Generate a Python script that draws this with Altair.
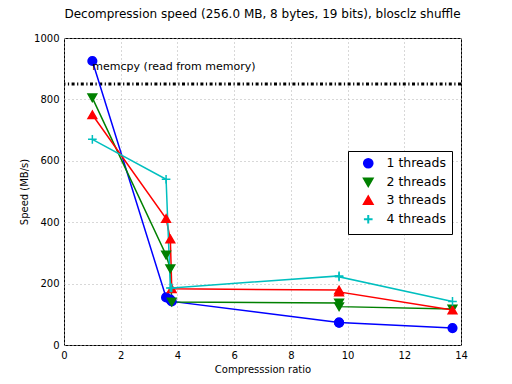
import altair as alt
import pandas as pd

series = ["1 threads", "2 threads", "3 threads", "4 threads"]
ratios = [1.0, 3.6, 3.75, 3.8, 9.7, 9.7, 13.7]
speed_1 = [925, 155, 148, 142, 73, 73, 55]
speed_2 = [805, 293, 248, 140, 137, 125, 117]
speed_3 = [750, 412, 345, 183, 179, 173, 114]
speed_4 = [670, 540, 186, 186, 225, 222, 142]
memcpy_speed = 850
colors = ["#0000ff", "#008000", "#ff0000", "#00bfbf"]
shapes = ["circle", "triangle-down", "triangle-up", "M-1,0H1M0,-1V1"]

rows = []
for name, vals in zip(series, [speed_1, speed_2, speed_3, speed_4]):
    for i, (r, v) in enumerate(zip(ratios, vals)):
        rows.append({"series": name, "ratio": r, "speed": v, "idx": i})
df = pd.DataFrame(rows)

font = "DejaVu Sans"
xs = alt.Scale(domain=[0, 14], nice=False, zero=False)
ys = alt.Scale(domain=[0, 1000], nice=False)
cscale = alt.Scale(domain=series, range=colors)
legend = alt.Legend(title=None, orient="none", legendX=284, legendY=113,
                    strokeColor="black", fillColor="white", padding=6,
                    labelFont=font, labelFontSize=12.5, labelColor="black",
                    symbolSize=75, symbolStrokeWidth=2, rowPadding=2,
                    cornerRadius=0, labelOffset=12, symbolOffset=8)
color = alt.Color("series:N", scale=cscale, legend=legend)
fill = alt.Fill("series:N", scale=cscale, legend=None)
shape = alt.Shape("series:N", scale=alt.Scale(domain=series, range=shapes), legend=legend)

base = alt.Chart(df).encode(
    x=alt.X("ratio:Q", scale=xs, title="Compresssion ratio",
            axis=alt.Axis(values=list(range(0, 15, 2)), format="d")),
    y=alt.Y("speed:Q", scale=ys, title="Speed (MB/s)",
            axis=alt.Axis(values=list(range(0, 1001, 200)), format="d")),
)

lines = base.mark_line(strokeWidth=1.5).encode(color=color, order="idx:Q", detail="series:N")
points = base.mark_point(filled=False, size=75, strokeWidth=1.5, opacity=1).encode(color=color, shape=shape, fill=fill)

memdf = pd.DataFrame({"y": [memcpy_speed], "label": ["memcpy (read from memory)"], "x": [1.0], "ty": [906]})
mem_rule = alt.Chart(memdf).mark_rule(color="black", strokeWidth=3, strokeDash=[3, 2.5, 1.2, 2.5]).encode(y="y:Q")
mem_text = alt.Chart(memdf).mark_text(align="left", baseline="middle", font=font, fontSize=11, color="black").encode(
    x=alt.X("x:Q", scale=xs), y=alt.Y("ty:Q", scale=ys), text="label:N")

chart = alt.layer(mem_rule, lines, points, mem_text).properties(
    width=397, height=307,
    title=alt.TitleParams("Decompression speed (256.0 MB, 8 bytes, 19 bits), blosclz shuffle",
                          font=font, fontSize=12, fontWeight="normal", color="black", offset=12),
    autosize=alt.AutoSizeParams(type="none"),
    padding={"left": 56, "top": 30, "right": 40, "bottom": 30},
).configure_axis(
    labelFont=font, titleFont=font, labelFontSize=10, titleFontSize=10,
    titleFontWeight="normal", labelColor="black", titleColor="black",
    grid=True, gridColor="#b0b0b0", gridDash=[1, 3], gridWidth=1,
    domain=False, ticks=False, labelPadding=5, labelFlush=False,
).configure_view(stroke="black", strokeWidth=1)

chart.save("out.html", embed_options={"renderer": "svg", "actions": False})
